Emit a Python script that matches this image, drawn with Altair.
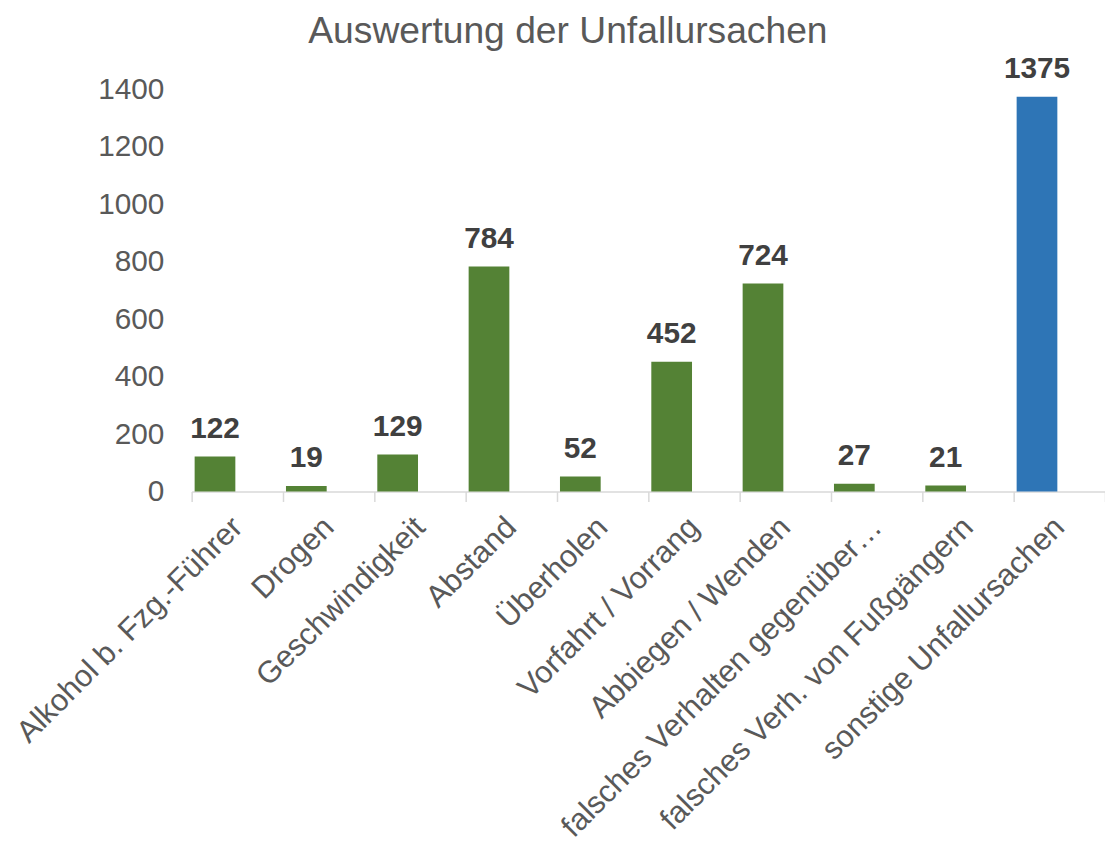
import altair as alt
import pandas as pd

categories = ["Alkohol b. Fzg.-Führer", "Drogen", "Geschwindigkeit", "Abstand", "Überholen",
              "Vorfahrt / Vorrang", "Abbiegen / Wenden", "falsches Verhalten gegenüber…",
              "falsches Verh. von Fußgängern", "sonstige Unfallursachen"]
values = [122, 19, 129, 784, 52, 452, 724, 27, 21, 1375]
groups = ["a"] * 9 + ["b"]

df = pd.DataFrame({"cat": categories, "val": values, "grp": groups})

FONT = "Liberation Sans"

x = alt.X("cat:N", sort=categories, title=None,
          scale=alt.Scale(paddingInner=0, paddingOuter=0),
          axis=alt.Axis(labelAngle=-45, labelAlign="right", labelBaseline="middle",
                        labelFontSize=31, labelColor="#595959", labelFont=FONT,
                        labelLimit=700, labelPadding=21, domainColor="#d9d9d9",
                        domainWidth=1.5, tickColor="#d9d9d9", tickWidth=1.5,
                        tickSize=10, tickBand="extent", labelOverlap=False))
y = alt.Y("val:Q", title=None,
          scale=alt.Scale(domain=[0, 1400], nice=False),
          axis=alt.Axis(values=[0, 200, 400, 600, 800, 1000, 1200, 1400], grid=False,
                        domain=False, ticks=False, labelFontSize=30, labelColor="#595959",
                        labelFont=FONT, labelPadding=28, format="d"))

bars = alt.Chart(df).mark_bar(width=41, xOffset=-22.5).encode(
    x=x, y=y,
    color=alt.Color("grp:N", scale=alt.Scale(domain=["a", "b"], range=["#548235", "#2E75B6"]),
                    legend=None),
)
labels = alt.Chart(df).mark_text(xOffset=-22.5, dy=-19, baseline="alphabetic", fontSize=30,
                                 fontWeight="bold", color="#404040",
                                 font=FONT).encode(x=x, y=y, text="val:Q")

chart = (bars + labels).properties(
    width=920, height=405,
    title=alt.TitleParams("Auswertung der Unfallursachen", fontSize=37.5, font=FONT,
                          fontWeight="normal", color="#595959", dx=-81, offset=4),
    autosize=alt.AutoSizeParams(type="none"),
    padding={"left": 185, "top": 79, "right": 0, "bottom": 358},
).configure_view(stroke=None)

chart.save("out.html", embed_options={"renderer": "svg", "actions": False})
